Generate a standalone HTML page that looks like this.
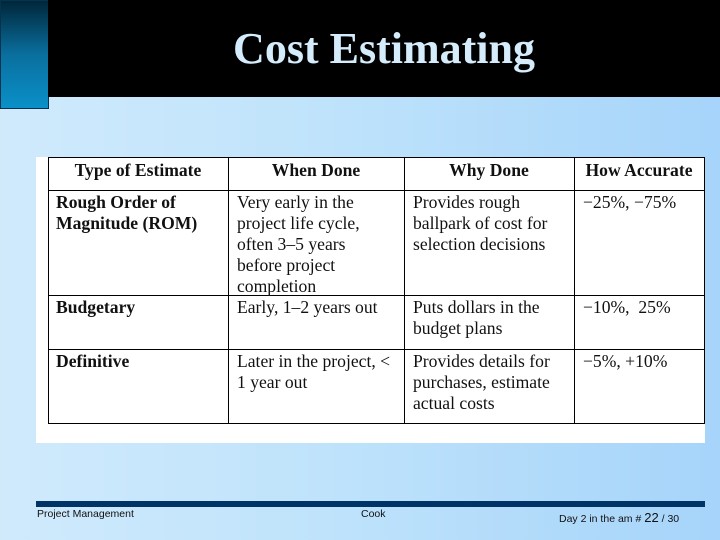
<!DOCTYPE html>
<html><head><meta charset="utf-8"><style>
body{margin:0;width:720px;height:540px;overflow:hidden;position:relative;background:linear-gradient(90deg,#d0eafc 0%,#bfe3fb 45%,#a6d4fa 100%);font-family:"Liberation Serif",serif}
.a{position:absolute}
.hdr{left:48px;top:0;width:672px;height:97px;background:#000}
.lbar{left:0;top:0;width:47px;height:107px;background:linear-gradient(180deg,#00263a,#0a6f9e 50%,#0a90c8);border:1px solid #03334d}
.title{left:36px;top:23px;width:696px;text-align:center;color:#d4ecfb;font-weight:bold;font-size:44px}
.panel{left:36px;top:157px;width:669px;height:286px;background:#fff}
.hl{background:#000;height:1px}
.vl{background:#000;width:1px}
.t{font-size:17.6px;line-height:21px;color:#111}
.b{font-weight:bold}
.ft{font-family:"Liberation Sans",sans-serif;font-size:10.5px;color:#111}
</style></head><body>
<div class="a lbar"></div>
<div class="a hdr"></div>
<div class="a title">Cost Estimating</div>
<div class="a panel"></div>
<div>
<div class="a hl" style="left:48px;top:157px;width:657px"></div>
<div class="a hl" style="left:48px;top:190px;width:657px"></div>
<div class="a hl" style="left:48px;top:295px;width:657px"></div>
<div class="a hl" style="left:48px;top:349px;width:657px"></div>
<div class="a hl" style="left:48px;top:423px;width:657px"></div>
<div class="a vl" style="left:48px;top:157px;height:267px"></div>
<div class="a vl" style="left:228px;top:157px;height:267px"></div>
<div class="a vl" style="left:404px;top:157px;height:267px"></div>
<div class="a vl" style="left:574px;top:157px;height:267px"></div>
<div class="a vl" style="left:704px;top:157px;height:267px"></div>
<div class="a t b" style="left:48px;width:180px;top:160px;text-align:center">Type of Estimate</div>
<div class="a t b" style="left:228px;width:176px;top:160px;text-align:center">When Done</div>
<div class="a t b" style="left:404px;width:170px;top:160px;text-align:center">Why Done</div>
<div class="a t b" style="left:574px;width:130px;top:160px;text-align:center">How Accurate</div>
<div class="a t b" style="left:56px;top:192px">Rough Order of<br>Magnitude (ROM)</div>
<div class="a t" style="left:237px;top:192px">Very early in the<br>project life cycle,<br>often 3–5 years<br>before project<br>completion</div>
<div class="a t" style="left:413px;top:192px">Provides rough<br>ballpark of cost for<br>selection decisions</div>
<div class="a t" style="left:583px;top:192px">−25%, −75%</div>
<div class="a t b" style="left:56px;top:297px">Budgetary</div>
<div class="a t" style="left:237px;top:297px">Early, 1–2 years out</div>
<div class="a t" style="left:413px;top:297px">Puts dollars in the<br>budget plans</div>
<div class="a t" style="left:583px;top:297px">−10%,&nbsp; 25%</div>
<div class="a t b" style="left:56px;top:351px">Definitive</div>
<div class="a t" style="left:237px;top:351px">Later in the project, &lt;<br>1 year out</div>
<div class="a t" style="left:413px;top:351px">Provides details for<br>purchases, estimate<br>actual costs</div>
<div class="a t" style="left:583px;top:351px">−5%, +10%</div>
</div>
<div class="a" style="left:36px;top:501px;width:669px;height:6px;background:#003366"></div>
<div class="a ft" style="left:37px;top:508px">Project Management</div>
<div class="a ft" style="left:361px;top:508px">Cook</div>
<div class="a ft" style="left:559px;top:510px">Day 2 in the am # <span style="font-size:13px">22</span> / 30</div>
</body></html>
